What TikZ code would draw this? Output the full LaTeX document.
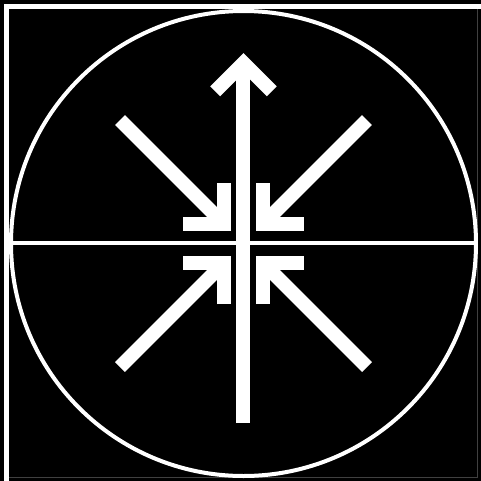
\documentclass[tikz,border=0pt]{standalone}
\usetikzlibrary{calc}

\begin{document}
\begin{tikzpicture}[
      x=0.1mm, y=-0.1mm,
      frame/.style={white, line width=0.5mm},
      rim/.style={white, line width=0.4mm},
      shaft/.style={white, line width=1.4mm, line cap=butt},
      barb/.style={shaft, line join=miter}
    ]
    \fill[black] (0,0) rectangle (481,481);
    \useasboundingbox (0,0) rectangle (481,481);
    \coordinate (c) at (243.5,243.5);

    % frame, running off on the right and bottom
    \begin{scope}
      \clip (0,0) rectangle (481,481);
      \draw[frame] (6.5,6.5) rectangle (495,495);
    \end{scope}
    \draw[black!75, line width=0.05mm] (477.5,9) -- (477.5,477.5) -- (9,477.5);

    \draw[rim] (c) circle (23.25mm);
    \draw[rim] (9,243) -- (477,243);

    % upward arrow
    \coordinate (foot) at (243.5,423);
    \coordinate (tip) at (243.5,63);
    \draw[shaft] (foot) -- (tip);
    \draw[barb] ($(tip)+(-28.3,28.3)$) -- (tip) -- ($(tip)+(28.3,28.3)$);

    % four arrows pointing in
    \foreach \sx/\sy in {-1/-1, 1/-1, -1/1, 1/1} {
      \draw[shaft] ($(c)+(\sx*123.5,\sy*123.5)$) -- ($(c)+(\sx*19.5,\sy*19.5)$);
      \draw[barb] ($(c)+(\sx*19.5,\sy*60.5)$) -- ($(c)+(\sx*19.5,\sy*19.5)$)
                  -- ($(c)+(\sx*60.5,\sy*19.5)$);
    }
  \end{tikzpicture}
\end{document}
